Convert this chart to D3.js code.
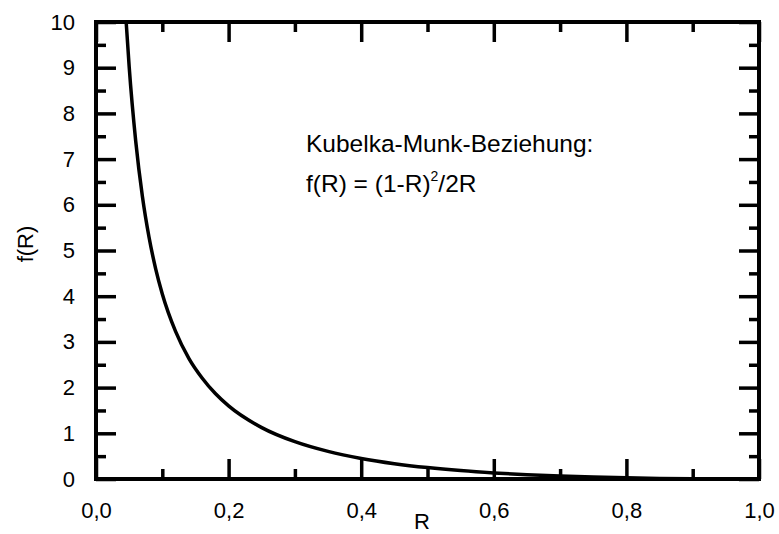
<!DOCTYPE html>
<html>
<head>
  <meta charset="utf-8">
  <title>Kubelka-Munk</title>
  <style>
    body { margin: 0; background: #fff; }
    text { font-family: "Liberation Sans", Arial, sans-serif; fill: #000; }
  </style>
</head>
<body>
  <script src="https://d3js.org/d3.v7.min.js"></script>
  <script type="text/javascript">

// values
var rValues = [0.0455, 0.05, 0.06, 0.07, 0.08, 0.09, 0.10, 0.12, 0.14, 0.16, 0.18, 0.20,
               0.25, 0.30, 0.35, 0.40, 0.45, 0.50, 0.55, 0.60, 0.65, 0.70, 0.75, 0.80,
               0.85, 0.90, 0.95, 1.00];
var fValues = [10.0, 9.03, 7.38, 6.18, 5.29, 4.60, 4.05, 3.23, 2.64, 2.21, 1.87, 1.60,
               1.125, 0.817, 0.604, 0.45, 0.336, 0.25, 0.184, 0.133, 0.094, 0.064, 0.042, 0.025,
               0.013, 0.0056, 0.0013, 0.0];
var xTicks = [0, 0.2, 0.4, 0.6, 0.8, 1.0];
var xMinor = [0.1, 0.3, 0.5, 0.7, 0.9];
var yTicks = [0, 1, 2, 3, 4, 5, 6, 7, 8, 9, 10];
var yMinor = [0.5, 1.5, 2.5, 3.5, 4.5, 5.5, 6.5, 7.5, 8.5, 9.5];

var margin = {top: 22, right: 20, bottom: 55, left: 96},
    width  = 779 - margin.left - margin.right,
    height = 534 - margin.top - margin.bottom;

var svg = d3.select("body")
    .append("svg")
    .attr("width", 779)
    .attr("height", 534);

var chart = svg.append("g")
    .attr("transform", "translate(" + margin.left + "," + margin.top + ")");

var xScale = d3.scaleLinear().domain([0, 1]).range([0, width]);
var yScale = d3.scaleLinear().domain([0, 10]).range([height, 0]);

var fmt = function(d){ return d3.format(".1f")(d).replace(".", ","); };

function styleAxis(g) {
    g.select(".domain").remove();
    g.selectAll(".tick line").attr("stroke", "#000").attr("stroke-width", 3.5);
    g.selectAll(".tick text").style("font-size", "22px").attr("fill", "#000");
}

// major + minor ticks, pointing inward on all four sides
chart.append("g")
    .attr("transform", "translate(0," + height + ")")
    .call(d3.axisBottom(xScale).tickValues(xTicks).tickSize(-20).tickPadding(23).tickFormat(fmt))
    .call(styleAxis);
chart.append("g")
    .attr("transform", "translate(0," + height + ")")
    .call(d3.axisBottom(xScale).tickValues(xMinor).tickSize(-10).tickFormat(""))
    .call(styleAxis);
chart.append("g")
    .call(d3.axisTop(xScale).tickValues(xTicks).tickSize(-20).tickFormat(""))
    .call(styleAxis);
chart.append("g")
    .call(d3.axisTop(xScale).tickValues(xMinor).tickSize(-10).tickFormat(""))
    .call(styleAxis);

chart.append("g")
    .call(d3.axisLeft(yScale).tickValues(yTicks).tickSize(-20).tickPadding(21).tickFormat(d3.format("d")))
    .call(styleAxis);
chart.append("g")
    .call(d3.axisLeft(yScale).tickValues(yMinor).tickSize(-10).tickFormat(""))
    .call(styleAxis);
chart.append("g")
    .attr("transform", "translate(" + width + ",0)")
    .call(d3.axisRight(yScale).tickValues(yTicks).tickSize(-20).tickFormat(""))
    .call(styleAxis);
chart.append("g")
    .attr("transform", "translate(" + width + ",0)")
    .call(d3.axisRight(yScale).tickValues(yMinor).tickSize(-10).tickFormat(""))
    .call(styleAxis);

// frame
chart.append("rect")
    .attr("x", 0).attr("y", 0)
    .attr("width", width).attr("height", height)
    .attr("fill", "none")
    .attr("stroke", "#000")
    .attr("stroke-width", 4);

// curve
var points = rValues.map(function(r, i){ return [r, fValues[i]]; });
var line = d3.line()
    .x(function(d){ return xScale(d[0]); })
    .y(function(d){ return yScale(d[1]); })
    .curve(d3.curveMonotoneX);

chart.append("path")
    .datum(points)
    .attr("fill", "none")
    .attr("stroke", "#000")
    .attr("stroke-width", 3.5)
    .attr("d", line);

// axis titles
svg.append("text")
    .attr("x", 422).attr("y", 529)
    .attr("text-anchor", "middle")
    .style("font-size", "22px")
    .text("R");

svg.append("text")
    .attr("transform", "translate(33,244) rotate(-90)")
    .attr("text-anchor", "middle")
    .style("font-size", "22px")
    .text("f(R)");

// annotation
svg.append("text")
    .attr("x", 306).attr("y", 152)
    .style("font-size", "24.5px")
    .text("Kubelka-Munk-Beziehung:");

var eq = svg.append("text")
    .attr("x", 306).attr("y", 192)
    .style("font-size", "24.5px");
eq.append("tspan").text("f(R) = (1-R)");
eq.append("tspan").attr("dy", -11).style("font-size", "14px").text("2");
eq.append("tspan").attr("dy", 11).text("/2R");

  </script>
</body>
</html>
